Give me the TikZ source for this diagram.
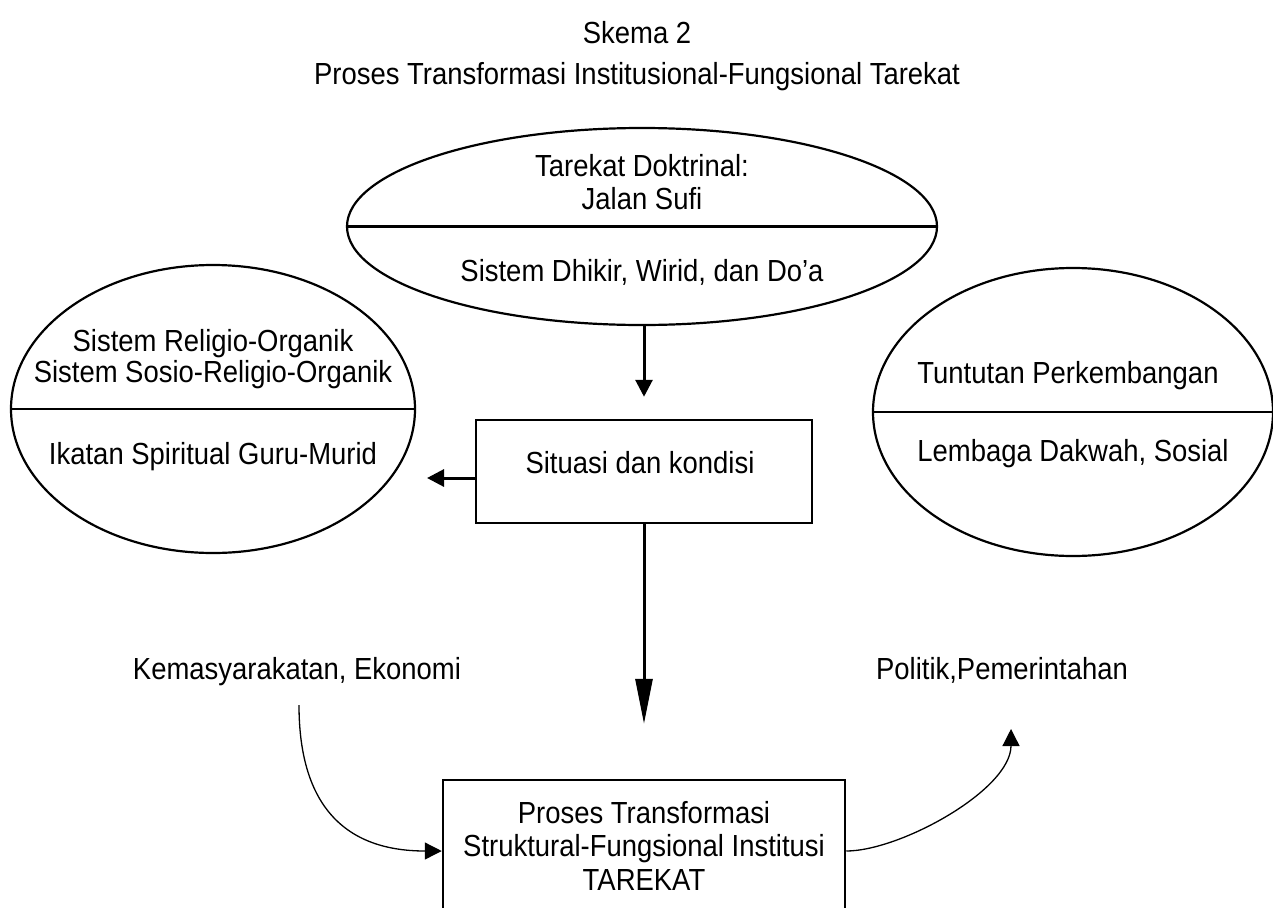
\documentclass[tikz,border=0pt]{standalone}
\usepackage{fontspec}
\setmainfont{Liberation Sans}[FakeStretch=0.9]
\usetikzlibrary{shapes.geometric,arrows.meta}
\begin{document}
\begin{tikzpicture}[x=1pt,y=-1pt,
  lbl/.style={font=\fontsize{30.5}{33.5}\selectfont, align=center, inner sep=0pt, anchor=north},
  oval/.style={draw, ellipse, line width=2.2pt, inner sep=0pt},
  boxframe/.style={draw, rectangle, line width=2.5pt, inner sep=0pt},
  sepline/.style={line width=2.2pt},
  bold arrow/.style={line width=3pt, -{Triangle[width=17pt,length=17pt]}},
  big arrow/.style={line width=3pt, -{Triangle[width=17pt,length=45pt]}},
  curve arrow/.style={line width=1.3pt, -{Triangle[width=17pt,length=17pt]}}]
\useasboundingbox (0,0) rectangle (1273,907);
\clip (0,0) rectangle (1273,907);

% titles
\node[lbl] (t1) at (637,21) {Skema 2};
\node[lbl] (t2) at (637,62) {Proses Transformasi Institusional-Fungsional Tarekat};

% top ellipse
\node[oval, minimum width=590pt, minimum height=197pt] (e1) at (642,226.5) {};
\draw[sepline] (e1.west) -- (e1.east);
\node[lbl] (e1a) at (642,154) {Tarekat Doktrinal:\\Jalan Sufi};
\node[lbl] (e1b) at (642,259) {Sistem Dhikir, Wirid, dan Do’a};

% left ellipse
\node[oval, minimum width=404pt, minimum height=288pt] (e2) at (213,409) {};
\draw[sepline] (e2.west) -- (e2.east);
\node[lbl, font=\fontsize{30.5}{31}\selectfont] (e2a) at (213,329) {Sistem Religio-Organik\\Sistem Sosio-Religio-Organik};
\node[lbl] (e2b) at (213,442) {Ikatan Spiritual Guru-Murid};

% right ellipse
\node[oval, minimum width=400pt, minimum height=288pt] (e3) at (1073,412) {};
\draw[sepline] (e3.west) -- (e3.east);
\node[lbl] (e3a) at (1068,361) {Tuntutan Perkembangan};
\node[lbl] (e3b) at (1073,439) {Lembaga Dakwah, Sosial};

% situasi box
\node[boxframe, minimum width=336pt, minimum height=103pt] (sit) at (644,471.5) {};
\node[lbl] (sitt) at (640,451) {Situasi dan kondisi};

% side labels
\node[lbl] (kem) at (297,657) {Kemasyarakatan, Ekonomi};
\node[lbl] (pol) at (1002,657) {Politik,Pemerintahan};

% bottom box
\node[boxframe, minimum width=402pt, minimum height=142pt] (tb) at (644,851) {};
\node[lbl] (tbt) at (644,801) {Proses Transformasi\\Struktural-Fungsional Institusi\\TAREKAT};

% free ends
\coordinate (lefttip) at (427,478);
\coordinate (kemstart) at (299,705);
\coordinate (polend) at (1011,729);

% connectors
\draw[bold arrow, shorten >=22pt] (sit.north |- e1.south) -- (sit.north);
\draw[bold arrow] ([yshift=-6.5pt]sit.west) -- (lefttip);
\draw[big arrow, shorten >=55pt] (sit.south) -- (tb.north);
\draw[curve arrow] (kemstart) .. controls (299,800) and (340,851) .. (tb.west);
\draw[curve arrow] (tb.east) .. controls (900,851) and (1011,790) .. (polend);
\end{tikzpicture}
\end{document}
